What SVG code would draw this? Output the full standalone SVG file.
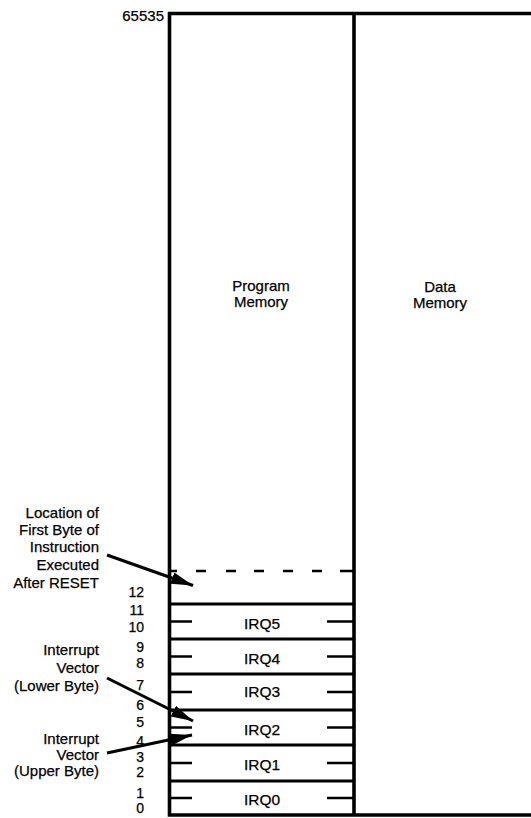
<svg xmlns="http://www.w3.org/2000/svg" width="531" height="818" viewBox="0 0 531 818">
<style>
text{font-family:"Liberation Sans",Arial,Helvetica,sans-serif;fill:#000;stroke:#000;stroke-width:0.25}
.lbl{font-size:15px;text-anchor:end}
.num{font-size:14px;text-anchor:end}
.mid{font-size:15px;text-anchor:middle}
.irq{font-size:15.5px;text-anchor:middle}
.frame{fill:none;stroke:#000;stroke-width:3.6}
.row{stroke:#000;stroke-width:2.8;fill:none}
.tick{stroke:#000;stroke-width:2.6}
.dash{stroke:#000;stroke-width:2.6;fill:none}
.arr{stroke:#000;stroke-width:3;fill:none;marker-end:url(#ah)}
</style>
<defs>
<marker id="ah" markerUnits="userSpaceOnUse" markerWidth="24" markerHeight="14" refX="22" refY="6" orient="auto">
<path d="M0,0 L22,6 L0,12 Z" fill="#000"/>
</marker>
</defs>
<rect width="531" height="818" fill="#fff"/>
<g id="frame">
<path class="frame" d="M531,13.5 H169.5 V815 H531"/>
<path class="frame" d="M354,13.5 V815"/>
<text class="num" x="164" y="21" style="font-size:15px">65535</text>
</g>
<g id="program-memory">
<text class="mid" x="261" y="291">Program</text>
<text class="mid" x="261" y="307">Memory</text>
</g>
<g id="data-memory">
<text class="mid" x="440" y="292">Data</text>
<text class="mid" x="440" y="308">Memory</text>
</g>
<g id="reset-location">
<path class="dash" d="M170,571 H177 M196,571 H206 M226,571 H236 M254,571 H264 M283,571 H293 M312,571 H322 M340,571 H353"/>
</g>
<g id="irq5"><path class="row" d="M170,604 H353"/><path class="tick" d="M170,621.5 H192 M327,621.5 H353"/><text class="irq" x="262" y="629">IRQ5</text></g>
<g id="irq4"><path class="row" d="M170,639 H353"/><path class="tick" d="M170,656.5 H192 M327,656.5 H353"/><text class="irq" x="262" y="664">IRQ4</text></g>
<g id="irq3"><path class="row" d="M170,674 H353"/><path class="tick" d="M170,692 H192 M327,692 H353"/><text class="irq" x="262" y="697">IRQ3</text></g>
<g id="irq2"><path class="row" d="M170,710 H353"/><path class="tick" d="M170,727.5 H192 M327,727.5 H353"/><text class="irq" x="262" y="735">IRQ2</text></g>
<g id="irq1"><path class="row" d="M170,745 H353"/><path class="tick" d="M170,763 H192 M327,763 H353"/><text class="irq" x="262" y="770">IRQ1</text></g>
<g id="irq0"><path class="row" d="M170,781 H353"/><path class="tick" d="M170,798 H192 M327,798 H353"/><text class="irq" x="262" y="805">IRQ0</text></g>
<g id="addresses">
<text class="num" x="144" y="597">12</text>
<text class="num" x="144" y="615">11</text>
<text class="num" x="144" y="632">10</text>
<text class="num" x="144" y="652">9</text>
<text class="num" x="144" y="668">8</text>
<text class="num" x="144" y="690">7</text>
<text class="num" x="144" y="710">6</text>
<text class="num" x="144" y="727">5</text>
<text class="num" x="144" y="746">4</text>
<text class="num" x="144" y="762">3</text>
<text class="num" x="144" y="777">2</text>
<text class="num" x="144" y="798">1</text>
<text class="num" x="144" y="813">0</text>
</g>
<g id="label-reset">
<text class="lbl" x="99" y="518">Location of</text>
<text class="lbl" x="99" y="535">First Byte of</text>
<text class="lbl" x="99" y="552">Instruction</text>
<text class="lbl" x="99" y="570">Executed</text>
<text class="lbl" x="99" y="588">After RESET</text>
</g>
<g id="label-lower">
<text class="lbl" x="99" y="655">Interrupt</text>
<text class="lbl" x="99" y="673">Vector</text>
<text class="lbl" x="99" y="691">(Lower Byte)</text>
</g>
<g id="label-upper">
<text class="lbl" x="99" y="744">Interrupt</text>
<text class="lbl" x="99" y="760">Vector</text>
<text class="lbl" x="99" y="776">(Upper Byte)</text>
</g>
<g id="connectors">
<path class="arr" d="M107,555 L193,585.5"/>
<path class="arr" d="M107,678 L193,721"/>
<path class="arr" d="M107,753 L192,735"/>
</g>
</svg>
